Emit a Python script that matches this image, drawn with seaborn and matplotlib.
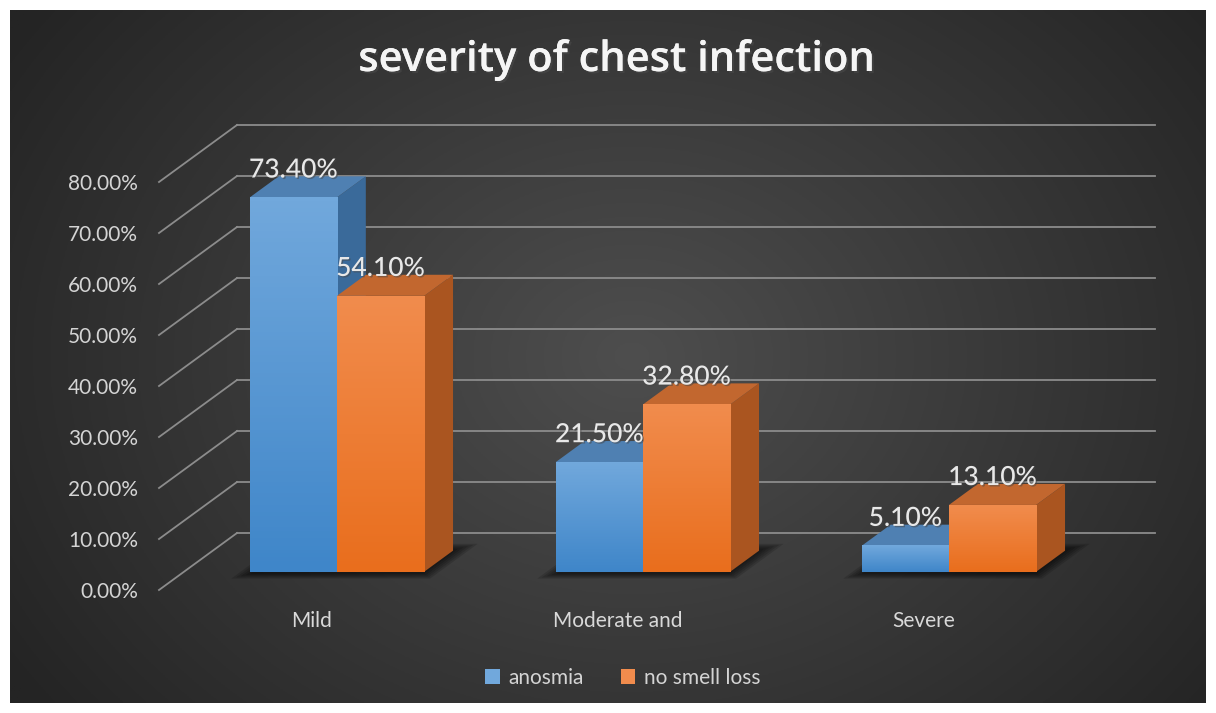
import matplotlib
matplotlib.use("Agg")
import matplotlib.pyplot as plt
import matplotlib.patheffects as pe
from matplotlib.colors import LinearSegmentedColormap, to_rgb
from matplotlib.patches import Polygon, Patch
import numpy as np
import pandas as pd
import seaborn as sns

categories = ["Mild", "Moderate and", "Severe"]
groups = ["anosmia", "no smell loss"]
anosmia = [73.4, 21.5, 5.1]
no_smell_loss = [54.1, 32.8, 13.1]
y_ticks = [0, 10, 20, 30, 40, 50, 60, 70, 80]
title = "severity of chest infection"

df = pd.DataFrame({
    "severity": categories * 2,
    "group": [groups[0]] * len(categories) + [groups[1]] * len(categories),
    "value": anosmia + no_smell_loss,
})

# front (bottom, top) / top face / side face
FRONT = {"anosmia": ("#3f86c9", "#71a8dc"), "no smell loss": ("#e96e1d", "#f18c4d")}
TOP = {"anosmia": "#4f80b2", "no smell loss": "#c2672f"}
SIDE = {"anosmia": "#3a6a9a", "no smell loss": "#aa5520"}

W, H = 1216, 713
# depth of the fake 3D box in data units (x: categories, y: percent)
DX, DY = 78 / 306, 57 / 5.1
D0, D1 = 0.32, 0.69  # front / back of the bars as fraction of depth

plt.rcParams["font.family"] = ["Lato", "DejaVu Sans"]

fig = plt.figure(figsize=(W / 100, H / 100), dpi=100, facecolor="white")

# dark radial background
bg = fig.add_axes([10 / W, 10 / H, 1196 / W, 693 / H])
bg.axis("off")
yy, xx = np.mgrid[0:1:300j, 0:1:500j]
r = np.sqrt(((xx - 0.52) / 0.62) ** 2 + ((yy - 0.5) / 0.85) ** 2)
r = np.clip(r, 0, 1)[..., None]
c_in, c_out = np.array(to_rgb("#4e4e4e")), np.array(to_rgb("#242424"))
bg.imshow(c_in * (1 - r) + c_out * r, aspect="auto", extent=(0, 1, 0, 1))
bg.set_xlim(0, 1)
bg.set_ylim(0, 1)

ax = fig.add_axes([159 / W, (H - 590) / H, 918 / W, 408 / H])
sns.barplot(data=df, x="severity", y="value", hue="group", order=categories,
            hue_order=groups, palette=[FRONT[g][0] for g in groups],
            saturation=1, width=0.57, errorbar=None, legend=False, ax=ax)

# gridlines: diagonal on the side wall + horizontal on the back wall
for v in y_ticks:
    ax.plot([-0.5, -0.5 + DX], [v, v + DY], color="#8c8c8c", lw=1.3,
            zorder=1, clip_on=False)
    ax.plot([-0.5 + DX, 2.5 + DX], [v + DY, v + DY], color="#8c8c8c", lw=1.3,
            zorder=1, clip_on=False)

ddx, ddy = DX * (D1 - D0), DY * (D1 - D0)
shadow_boxes = {}
for k, (g, cont) in enumerate(zip(groups, ax.containers)):
    z = 3 + k
    cmap = LinearSegmentedColormap.from_list(g, FRONT[g])
    for i, bar in enumerate(cont):
        x0 = bar.get_x() + DX * D0
        y0 = DY * D0
        w, h = bar.get_width(), bar.get_height()
        bar.set_x(x0)
        bar.set_y(y0)
        bar.set_zorder(z)
        bar.set_edgecolor("none")
        x1, y1 = x0 + w, y0 + h
        ax.add_patch(Polygon([(x1, y0), (x1 + ddx, y0 + ddy), (x1 + ddx, y1 + ddy), (x1, y1)],
                             fc=SIDE[g], ec="none", zorder=z, clip_on=False))
        ax.add_patch(Polygon([(x0, y1), (x1, y1), (x1 + ddx, y1 + ddy), (x0 + ddx, y1 + ddy)],
                             fc=TOP[g], ec="none", zorder=z, clip_on=False))
        ax.imshow(np.linspace(0, 1, 100).reshape(-1, 1), cmap=cmap, origin="lower",
                  extent=(x0, x1, y0, y1), aspect="auto", zorder=z + 0.1, clip_on=False)
        ax.text(x0 + w / 2, y1 + 3.9, f"{h:.2f}%", ha="center", va="baseline",
                fontsize=19, weight="medium", color="#e8e8e8", zorder=10,
                path_effects=[pe.withSimplePatchShadow(offset=(1, -1), alpha=0.5)])
        lo, hi = shadow_boxes.get(i, (x0, x1))
        shadow_boxes[i] = (min(lo, x0), max(hi, x1))

# soft shadow on the floor under each bar group
for lo, hi in shadow_boxes.values():
    for j in range(5):
        m = 0.01 * j
        d_a, d_b = D0 - 0.04 - 0.02 * j, D1 + 0.04 + 0.02 * j
        xa, xb = lo - DX * D0 + 0.01 - m, hi - DX * D0 + 0.01 + m
        ax.add_patch(Polygon([(xa + DX * d_a, DY * d_a), (xb + DX * d_a, DY * d_a),
                              (xb + DX * d_b, DY * d_b), (xa + DX * d_b, DY * d_b)],
                             fc="black", ec="none", alpha=0.14, zorder=2, clip_on=False))

ax.set_xlim(-0.5, 2.5)
ax.set_ylim(0, 80)
ax.set_facecolor("none")
for s in ax.spines.values():
    s.set_visible(False)
ax.set_xlabel("")
ax.set_ylabel("")
ax.set_yticks(y_ticks)
ax.set_yticklabels([f"{v:.2f}%" for v in y_ticks])
ax.tick_params(axis="y", length=0, pad=15, labelsize=15, labelcolor="#d4d4d4")
ax.tick_params(axis="x", length=0, pad=15, labelsize=15, labelcolor="#d9d9d9")

fig.legend(handles=[Patch(fc=FRONT[g][1], ec="none", label=g) for g in groups],
           loc="center", bbox_to_anchor=(0.512, 1 - 678 / H), ncol=2, frameon=False,
           fontsize=15, labelcolor="#d4d4d4", handlelength=0.7, handleheight=0.7,
           handletextpad=0.4, columnspacing=1.8)

fig.text(0.507, 1 - 60 / H, title, ha="center", va="center", fontsize=30,
         family=["Open Sans", "DejaVu Sans"], weight="semibold", color="#f5f5f5",
         path_effects=[pe.withSimplePatchShadow(offset=(1.5, -1.5), alpha=0.6), pe.Normal()])

fig.savefig("out.png", dpi=100, facecolor="white")
